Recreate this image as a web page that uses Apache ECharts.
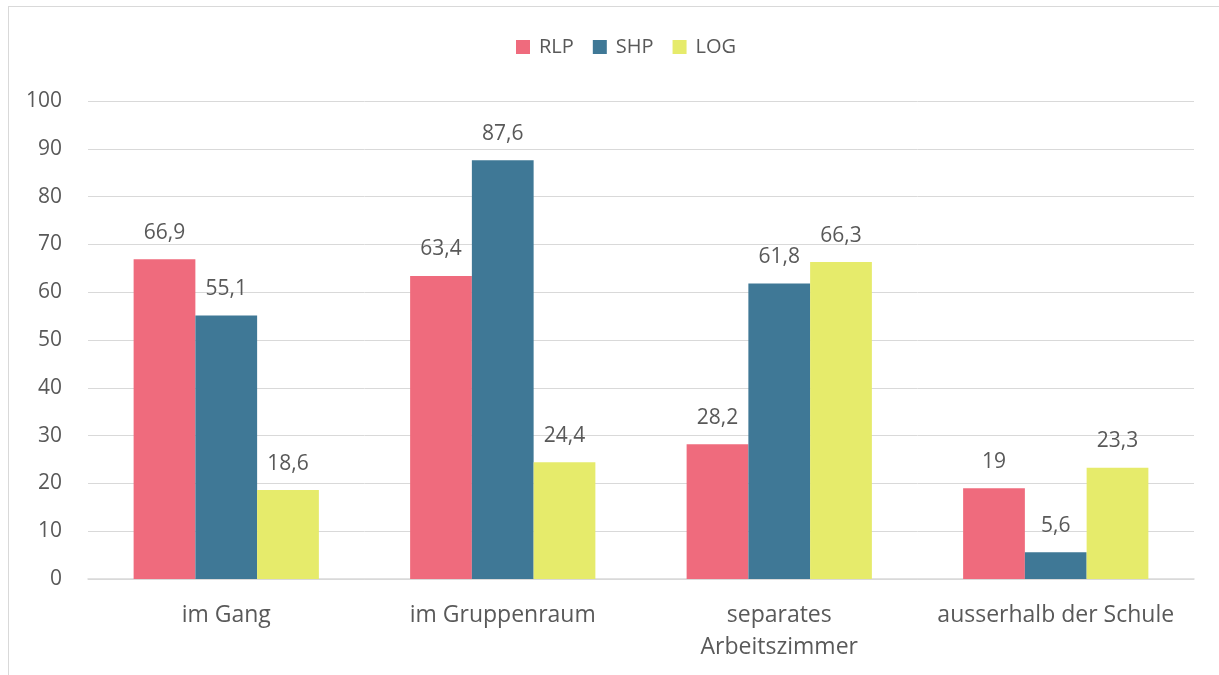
<!DOCTYPE html>
<html>
<head>
<meta charset="utf-8">
<script src="https://cdn.jsdelivr.net/npm/echarts@6/dist/echarts.min.js"></script>
<style>
    html, body { margin: 0; padding: 0; background: #fff; overflow: hidden; }
    #frame { position: absolute; left: 8px; top: 6px; width: 1400px; height: 900px; border: 1px solid #d9d9d9; }
    #main { position: absolute; left: 0; top: 0; width: 1219px; height: 675px; }
</style>
</head>
<body>
<div id="frame"></div>
<div id="main"></div>
<script>
var categories = ['im Gang', 'im Gruppenraum', 'separates\nArbeitszimmer', 'ausserhalb der Schule'];
var rlp = [66.9, 63.4, 28.2, 19];
var shp = [55.1, 87.6, 61.8, 5.6];
var log = [18.6, 24.4, 66.3, 23.3];

var textColor = '#595959';
var fontName = '"Open Sans", "Noto Sans", sans-serif';

// Werte mit Komma als Dezimaltrenner
function labelFmt(p) {
    return String(p.value).replace('.', ',');
}

function makeSeries(name, data, color) {
    return {
        name: name,
        type: 'bar',
        data: data,
        barGap: 0,
        barCategoryGap: '33%',
        itemStyle: { color: color },
        label: {
            show: true,
            position: 'top',
            distance: 16,
            formatter: labelFmt,
            color: textColor,
            fontFamily: fontName,
            fontSize: 21
        }
    };
}

var chart = echarts.init(document.getElementById('main'));
var option = {
    backgroundColor: 'transparent',
    animation: false,
    textStyle: { fontFamily: fontName },
    legend: {
        top: 32,
        left: 511,
        itemWidth: 14,
        itemHeight: 14,
        itemGap: 19,
        icon: 'rect',
        textStyle: { color: textColor, fontSize: 20, fontFamily: fontName, padding: [0, 0, 0, 4] },
        data: ['RLP', 'SHP', 'LOG']
    },
    grid: { left: 88, right: 25, top: 101, bottom: 96, containLabel: false },
    xAxis: {
        type: 'category',
        data: categories,
        axisLine: { lineStyle: { color: '#d9d9d9', width: 1.5 } },
        axisTick: { show: false },
        axisLabel: {
            color: textColor,
            fontSize: 23,
            fontFamily: fontName,
            margin: 20,
            lineHeight: 32,
            interval: 0
        }
    },
    yAxis: {
        type: 'value',
        min: 0,
        max: 100,
        interval: 10,
        axisLine: { show: false },
        axisTick: { show: false },
        splitLine: { lineStyle: { color: '#d9d9d9', width: 1 } },
        axisLabel: {
            color: textColor,
            fontSize: 21,
            fontFamily: fontName,
            margin: 26
        }
    },
    series: [
        makeSeries('RLP', rlp, '#ef6b7d'),
        makeSeries('SHP', shp, '#3f7896'),
        makeSeries('LOG', log, '#e6eb6b')
    ]
};
chart.setOption(option);
</script>
</body>
</html>
